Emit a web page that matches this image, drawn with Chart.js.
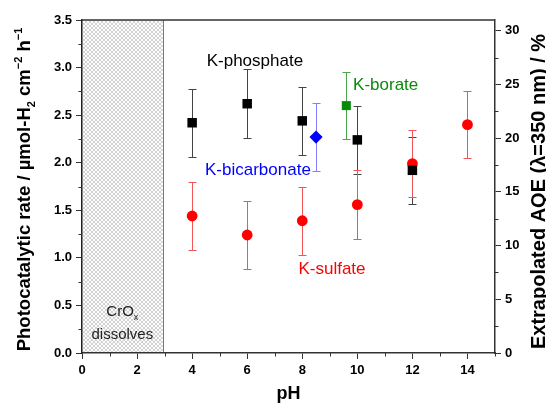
<!DOCTYPE html>
<html>
<head>
<meta charset="utf-8">
<script src="https://cdn.jsdelivr.net/npm/chart.js@4.4.0/dist/chart.umd.min.js"></script>
<style>
  html, body { margin: 0; padding: 0; background: #fff; }
</style>
</head>
<body>
<canvas id="chart" width="546" height="405"></canvas>
<script>
// pH values, rates (umol-H2 cm^-2 h^-1) and error half-widths
const phosphatePH = [4, 6, 8, 10, 12];
const phosphateRate = [2.42, 2.62, 2.44, 2.24, 1.92];
const phosphateErr = [0.36, 0.36, 0.36, 0.36, 0.355];

const sulfatePH = [4, 6, 8, 10, 12, 14];
const sulfateRate = [1.44, 1.24, 1.39, 1.56, 1.99, 2.40];
const sulfateErr = [0.36, 0.36, 0.36, 0.36, 0.355, 0.355];

const bicarbonatePH = [8.5];
const bicarbonateRate = [2.27];
const bicarbonateErr = [0.36];

const boratePH = [9.6];
const borateRate = [2.60];
const borateErr = [0.355];

// axis ticks
const xTicks = [0, 2, 4, 6, 8, 10, 12, 14];
const xMinor = [1, 3, 5, 7, 9, 11, 13, 15];
const rateTicks = [0, 0.5, 1.0, 1.5, 2.0, 2.5, 3.0, 3.5];
const rateMinor = [0.25, 0.75, 1.25, 1.75, 2.25, 2.75, 3.25];
const aqeTicks = [0, 5, 10, 15, 20, 25, 30];
const aqeMinor = [2.5, 7.5, 12.5, 17.5, 22.5, 27.5];
const aqeMax = 31.0;

// CrOx dissolves region (pH)
const dissolveEnd = 2.93;

const FONT = '"Liberation Sans", Arial, sans-serif';

function points(xs, ys) {
  return xs.map((x, i) => ({ x: x, y: ys[i] }));
}

function makeHatch(ctx) {
  const c = document.createElement('canvas');
  c.width = 4; c.height = 4;
  const g = c.getContext('2d');
  g.fillStyle = '#fcfcfc';
  g.fillRect(0, 0, 4, 4);
  g.strokeStyle = '#d2d2d2';
  g.lineWidth = 1;
  g.beginPath();
  g.moveTo(0, 0); g.lineTo(4, 4);
  g.moveTo(4, 0); g.lineTo(0, 4);
  g.stroke();
  return ctx.createPattern(c, 'repeat');
}

// text made of pieces, some of them sub- or superscript
function drawRich(ctx, parts, cx, cy, rot, size, weight, color) {
  ctx.save();
  ctx.translate(cx, cy);
  ctx.rotate(rot);
  ctx.fillStyle = color;
  ctx.textAlign = 'left';
  ctx.textBaseline = 'alphabetic';
  const fontOf = p => weight + ' ' + (p.s ? Math.round(size * 0.62) : size) + 'px ' + FONT;
  let w = 0;
  parts.forEach(p => { ctx.font = fontOf(p); w += ctx.measureText(p.t).width; });
  let x = -w / 2;
  const base = size * 0.36;
  parts.forEach(p => {
    ctx.font = fontOf(p);
    let dy = 0;
    if (p.s === 'sub') dy = size * 0.3;
    if (p.s === 'sup') dy = -size * 0.42;
    ctx.fillText(p.t, x, base + dy);
    x += ctx.measureText(p.t).width;
  });
  ctx.restore();
}

const hatchPlugin = {
  id: 'hatch',
  beforeDraw(chart) {
    const { ctx, chartArea: a, scales: { x } } = chart;
    const x0 = x.getPixelForValue(0);
    const x1 = x.getPixelForValue(dissolveEnd);
    ctx.save();
    ctx.fillStyle = makeHatch(ctx);
    ctx.fillRect(x0, a.top, x1 - x0, a.bottom - a.top);
    ctx.strokeStyle = '#777';
    ctx.lineWidth = 1;
    ctx.beginPath();
    ctx.moveTo(Math.round(x1) + 0.5, a.top);
    ctx.lineTo(Math.round(x1) + 0.5, a.bottom);
    ctx.stroke();
    ctx.restore();
  }
};

const errorBarPlugin = {
  id: 'errorBars',
  beforeDatasetsDraw(chart) {
    const { ctx } = chart;
    chart.data.datasets.forEach((ds, i) => {
      const meta = chart.getDatasetMeta(i);
      const ys = chart.scales[meta.yAxisID];
      ctx.save();
      ctx.strokeStyle = ds.errColor;
      ctx.lineWidth = 1;
      meta.data.forEach((pt, j) => {
        const v = ds.data[j].y, e = ds.errors[j];
        const px = Math.round(pt.x) + 0.5;
        const top = Math.round(ys.getPixelForValue(v + e)) + 0.5;
        const bot = Math.round(ys.getPixelForValue(v - e)) + 0.5;
        ctx.beginPath();
        ctx.moveTo(px, top); ctx.lineTo(px, bot);
        ctx.moveTo(px - 4, top); ctx.lineTo(px + 4, top);
        ctx.moveTo(px - 4, bot); ctx.lineTo(px + 4, bot);
        ctx.stroke();
      });
      ctx.restore();
    });
  }
};

const framePlugin = {
  id: 'frame',
  afterDraw(chart) {
    const { ctx, chartArea: a, scales } = chart;
    ctx.save();
    ctx.strokeStyle = '#333';
    ctx.lineWidth = 1.5;
    ctx.beginPath();
    ctx.moveTo(a.left, a.top);
    ctx.lineTo(a.right, a.top);
    ctx.stroke();
    ctx.lineWidth = 1;
    ctx.beginPath();
    xMinor.forEach(v => {
      const p = Math.round(scales.x.getPixelForValue(v)) + 0.5;
      ctx.moveTo(p, a.bottom); ctx.lineTo(p, a.bottom + 3.5);
    });
    rateMinor.forEach(v => {
      const p = Math.round(scales.y.getPixelForValue(v)) + 0.5;
      ctx.moveTo(a.left, p); ctx.lineTo(a.left - 3.5, p);
    });
    aqeMinor.forEach(v => {
      const p = Math.round(scales.y2.getPixelForValue(v)) + 0.5;
      ctx.moveTo(a.right, p); ctx.lineTo(a.right + 3.5, p);
    });
    ctx.stroke();

    // axis titles
    drawRich(ctx, [
      { t: 'Photocatalytic rate / \u00b5mol-H' }, { t: '2', s: 'sub' },
      { t: ' cm' }, { t: '\u22122', s: 'sup' },
      { t: ' h' }, { t: '\u22121', s: 'sup' }
    ], 23, (a.top + a.bottom) / 2 + 3, -Math.PI / 2, 18.5, 'bold', '#000');
    drawRich(ctx, [{ t: 'Extrapolated AQE (\u03bb=350 nm) / %' }],
      538, (a.top + a.bottom) / 2 + 5, -Math.PI / 2, 20, 'bold', '#000');
    drawRich(ctx, [{ t: 'pH' }], (a.left + a.right) / 2, 393, 0, 18, 'bold', '#000');
    ctx.restore();
  }
};

// labels placed in data coordinates (pH, rate)
const labelTexts = ['K-phosphate', 'K-bicarbonate', 'K-borate', 'K-sulfate'];
const labelPH = [6.28, 6.39, 11.03, 9.08];
const labelRate = [3.08, 1.93, 2.83, 0.89];
const labelColors = ['#000', '#0000ff', '#0a8a0a', '#ff0000'];

const labelPlugin = {
  id: 'labels',
  afterDatasetsDraw(chart) {
    const { ctx, scales: { x, y } } = chart;
    ctx.save();
    labelTexts.forEach((t, i) => {
      drawRich(ctx, [{ t: t }], x.getPixelForValue(labelPH[i]), y.getPixelForValue(labelRate[i]),
        0, 17, 'normal', labelColors[i]);
    });
    const cx = x.getPixelForValue(dissolveEnd / 2);
    drawRich(ctx, [{ t: 'CrO' }, { t: 'x', s: 'sub' }], cx, y.getPixelForValue(0.45), 0, 15, 'normal', '#222');
    drawRich(ctx, [{ t: 'dissolves' }], cx, y.getPixelForValue(0.20), 0, 15, 'normal', '#222');
    ctx.restore();
  }
};

const tickFont = { family: FONT, size: 13, weight: 'bold' };

new Chart(document.getElementById('chart'), {
  type: 'scatter',
  data: {
    datasets: [
      {
        label: 'K-phosphate',
        data: points(phosphatePH, phosphateRate),
        errors: phosphateErr,
        errColor: '#444',
        pointStyle: 'rect',
        pointRadius: 6.7,
        backgroundColor: '#000',
        borderColor: '#000',
        borderWidth: 0
      },
      {
        label: 'K-sulfate',
        data: points(sulfatePH, sulfateRate),
        errors: sulfateErr,
        errColor: '#f25555',
        pointStyle: 'circle',
        pointRadius: 5.4,
        backgroundColor: '#ff0000',
        borderColor: '#ff0000',
        borderWidth: 0
      },
      {
        label: 'K-bicarbonate',
        data: points(bicarbonatePH, bicarbonateRate),
        errors: bicarbonateErr,
        errColor: '#8080ff',
        pointStyle: 'rectRot',
        pointRadius: 6.6,
        backgroundColor: '#0000ff',
        borderColor: '#0000ff',
        borderWidth: 0
      },
      {
        label: 'K-borate',
        data: points(boratePH, borateRate),
        errors: borateErr,
        errColor: '#4aa84a',
        pointStyle: 'rect',
        pointRadius: 6.4,
        backgroundColor: '#0a8a0a',
        borderColor: '#0a8a0a',
        borderWidth: 0
      }
    ]
  },
  options: {
    responsive: false,
    animation: false,
    layout: { padding: { top: 20, left: 0, right: 0, bottom: 0 } },
    plugins: { legend: { display: false }, tooltip: { enabled: false } },
    scales: {
      x: {
        type: 'linear',
        min: 0,
        max: 15,
        afterBuildTicks: s => { s.ticks = xTicks.map(v => ({ value: v })); },
        afterFit: s => { s.height = 52; },
        border: { color: '#333', width: 1.5 },
        grid: { drawOnChartArea: false, tickLength: 6, color: '#333', tickWidth: 1 },
        ticks: { color: '#000', font: tickFont, padding: 4, maxRotation: 0 }
      },
      y: {
        type: 'linear',
        position: 'left',
        min: 0,
        max: 3.5,
        afterBuildTicks: s => { s.ticks = rateTicks.map(v => ({ value: v })); },
        afterFit: s => { s.width = 82; },
        border: { color: '#222', width: 1.5, dash: [3, 2] },
        grid: { drawOnChartArea: false, tickLength: 6, color: '#333', tickWidth: 1 },
        ticks: { color: '#000', font: tickFont, padding: 4, callback: v => v.toFixed(1) }
      },
      y2: {
        type: 'linear',
        position: 'right',
        min: 0,
        max: aqeMax,
        afterBuildTicks: s => { s.ticks = aqeTicks.map(v => ({ value: v })); },
        afterFit: s => { s.width = 51; },
        border: { color: '#333', width: 1.5 },
        grid: { drawOnChartArea: false, tickLength: 6, color: '#333', tickWidth: 1 },
        ticks: { color: '#000', font: tickFont, padding: 4 }
      }
    }
  },
  plugins: [hatchPlugin, errorBarPlugin, labelPlugin, framePlugin]
});
</script>
</body>
</html>
